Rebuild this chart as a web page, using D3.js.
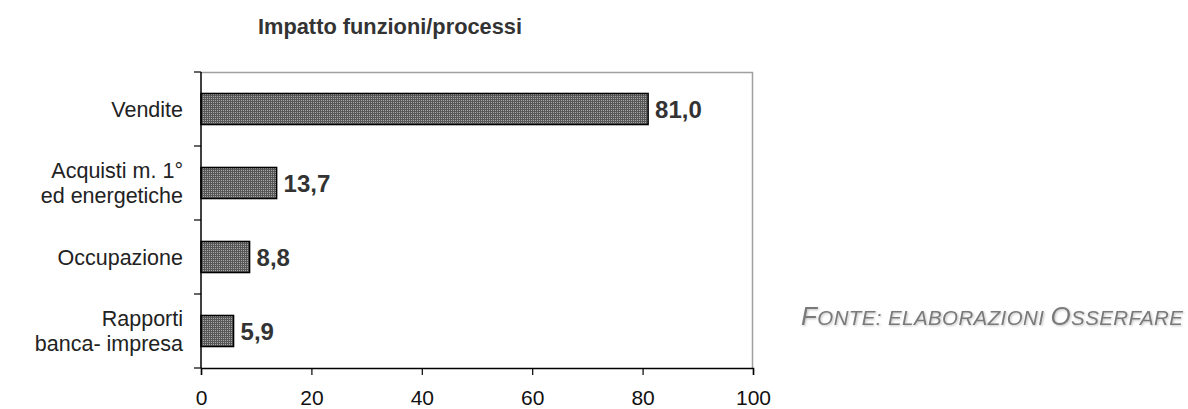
<!DOCTYPE html>
<html>
<head>
<meta charset="utf-8">
<script src="https://cdn.jsdelivr.net/npm/d3@7"></script>
<style>
  html, body { margin: 0; padding: 0; background: #fff; }
  svg { display: block; }
</style>
</head>
<body>
<svg id="chart" width="1188" height="409"></svg>
<script>
// Data
const categories = ["Vendite", "Acquisti m. 1°\ned energetiche", "Occupazione", "Rapporti\nbanca- impresa"];
const values = [81.0, 13.7, 8.8, 5.9];
const xTicks = [0, 20, 40, 60, 80, 100];
const title = "Impatto funzioni/processi";

const FONT = "Liberation Sans, Arial, sans-serif";
const svg = d3.select("#chart");
const plotLeft = 201, plotRight = 753, plotTop = 72, plotBottom = 368;
const W = plotRight - plotLeft, H = plotBottom - plotTop;

const defs = svg.append("defs");
// Fine dotted fill for the bars
const pat = defs.append("pattern")
  .attr("id", "dots").attr("patternUnits", "userSpaceOnUse")
  .attr("width", 2).attr("height", 2);
pat.append("rect").attr("width", 2).attr("height", 2).attr("fill", "#575757");
pat.append("rect").attr("width", 1).attr("height", 1).attr("fill", "#a8a8a8");

// Soft shadow for the source note
const sh = defs.append("filter").attr("id", "soft")
  .attr("x", "-10%").attr("y", "-40%").attr("width", "120%").attr("height", "180%");
sh.append("feGaussianBlur").attr("in", "SourceAlpha").attr("stdDeviation", 1).attr("result", "b");
sh.append("feOffset").attr("in", "b").attr("dx", 1).attr("dy", 1).attr("result", "o");
sh.append("feComponentTransfer").attr("in", "o").attr("result", "s")
  .append("feFuncA").attr("type", "linear").attr("slope", 0.25);
const mg = sh.append("feMerge");
mg.append("feMergeNode").attr("in", "s");
mg.append("feMergeNode").attr("in", "SourceGraphic");

const g = svg.append("g").attr("transform", `translate(${plotLeft},${plotTop})`);

const x = d3.scaleLinear().domain([0, 100]).range([0, W]);
const y = d3.scaleBand().domain(categories).range([0, H]).paddingInner(0.58).paddingOuter(0.29);

// Plot frame (top and right in gray)
g.append("line").attr("x1", 0).attr("x2", W).attr("y1", 0.5).attr("y2", 0.5)
  .attr("stroke", "#a0a0a0").attr("stroke-width", 1.5);
g.append("line").attr("x1", W - 0.5).attr("x2", W - 0.5).attr("y1", 0).attr("y2", H)
  .attr("stroke", "#a0a0a0").attr("stroke-width", 1.5);

// Bars
g.selectAll("rect.bar").data(categories).enter().append("rect")
  .attr("class", "bar")
  .attr("x", 0)
  .attr("y", d => y(d))
  .attr("width", (d, i) => x(values[i]))
  .attr("height", y.bandwidth())
  .attr("fill", "url(#dots)")
  .attr("stroke", "#000").attr("stroke-width", 1.5);

// Value labels
g.selectAll("text.val").data(categories).enter().append("text")
  .attr("class", "val")
  .attr("x", (d, i) => x(values[i]) + 7)
  .attr("y", d => y(d) + y.bandwidth() / 2)
  .attr("dy", "0.36em")
  .attr("font-family", FONT)
  .attr("font-weight", "bold").attr("font-size", 24)
  .attr("fill", "#333")
  .text((d, i) => d3.format(".1f")(values[i]).replace(".", ","));

// X axis
const xAxis = g.append("g").attr("transform", `translate(0,${H})`)
  .call(d3.axisBottom(x).tickValues(xTicks).tickSize(7).tickPadding(15).tickFormat(d3.format("d")));
xAxis.select(".domain").attr("stroke", "#000").attr("stroke-width", 1.5);
xAxis.selectAll(".tick line").attr("stroke", "#000").attr("stroke-width", 1.2);
xAxis.selectAll("text").attr("font-family", FONT)
  .attr("font-size", 21).attr("fill", "#111");

// Y axis: line plus ticks at band boundaries
const bounds = d3.range(categories.length + 1).map(i => i * H / categories.length);
g.append("line").attr("x1", 0).attr("x2", 0).attr("y1", 0).attr("y2", H)
  .attr("stroke", "#000").attr("stroke-width", 1.5);
g.selectAll("line.ytick").data(bounds).enter().append("line")
  .attr("class", "ytick")
  .attr("x1", -7).attr("x2", 0).attr("y1", d => d).attr("y2", d => d)
  .attr("stroke", "#000").attr("stroke-width", 1.2);

// Category labels (multi-line, right aligned)
const lineH = 25;
categories.forEach(c => {
  const lines = c.split("\n");
  const cy = y(c) + y.bandwidth() / 2;
  const t = g.append("text")
    .attr("text-anchor", "end")
    .attr("font-family", FONT)
    .attr("font-size", 21.5).attr("fill", "#222");
  lines.forEach((ln, k) => {
    t.append("tspan").attr("x", -18)
      .attr("y", cy + (k - (lines.length - 1) / 2) * lineH)
      .attr("dy", "0.36em").text(ln);
  });
});

// Title
svg.append("text").attr("x", 390).attr("y", 34)
  .attr("text-anchor", "middle")
  .attr("font-family", FONT)
  .attr("font-weight", "bold").attr("font-size", 21.8).attr("fill", "#333")
  .text(title);

// Source note in small caps
const src = svg.append("text").attr("x", 801).attr("y", 325)
  .attr("font-family", FONT)
  .attr("font-style", "italic").attr("fill", "#7a7a7a")
  .attr("filter", "url(#soft)");
[["F", 26], ["ONTE: ELABORAZIONI ", 20.5], ["O", 26], ["SSERFARE", 20.5]].forEach(([s, fs]) => {
  src.append("tspan").attr("font-size", fs).attr("letter-spacing", 0.4).text(s);
});
</script>
</body>
</html>
